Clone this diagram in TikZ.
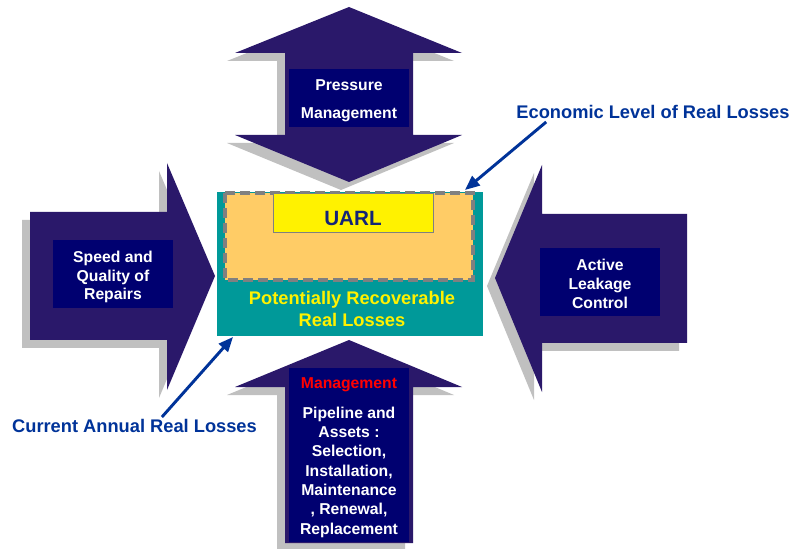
\documentclass[tikz,border=0pt]{standalone}
\usepackage{fontspec}
\setmainfont{Liberation Sans}
\usetikzlibrary{arrows.meta,calc}
\definecolor{arrowpurple}{RGB}{42,24,106}
\definecolor{innernavy}{RGB}{0,0,112}
\definecolor{shadowgray}{RGB}{192,192,192}
\definecolor{tealbox}{RGB}{0,153,153}
\definecolor{orangefill}{RGB}{255,204,102}
\definecolor{dashgray}{RGB}{128,128,128}
\definecolor{labelblue}{RGB}{0,51,153}
\definecolor{uarlblue}{RGB}{20,36,120}
\begin{document}
\begin{tikzpicture}[x=0.75pt,y=-0.75pt,
  innerbox/.style={fill=innernavy, inner sep=0pt},
  lbl/.style={inner sep=0pt, text=labelblue, font=\bfseries\fontsize{13.7}{16}\selectfont},
  pointer/.style={draw=labelblue, line width=2.2pt, -{Triangle[length=11pt,width=9pt]}},
  wtext/.style={inner sep=0pt, text=white, align=center, font=\bfseries\fontsize{11.8}{14}\selectfont}]
\useasboundingbox (0,0) rectangle (797,549);
\fill[white] (0,0) rectangle (797,549);

% four block arrows, shadows first
\foreach \c/\dx/\dy in {shadowgray/-8/8, arrowpurple/0/0}{
  \begin{scope}[shift={(\dx,\dy)}]
  % top double arrow
  \fill[\c] (349,7) -- (462,53) -- (413,53) -- (413,135) -- (462,135) -- (349,182)
     -- (235,135) -- (285,135) -- (285,53) -- (235,53) -- cycle;
  % left arrow
  \fill[\c] (30,212) -- (167,212) -- (167,163) -- (215,276) -- (167,390) -- (167,340)
     -- (30,340) -- cycle;
  % right arrow
  \fill[\c] (687,214) -- (542,214) -- (542,165) -- (495,278) -- (542,392) -- (542,343)
     -- (687,343) -- cycle;
  % bottom arrow
  \fill[\c] (349,340) -- (462,387) -- (413,387) -- (413,543) -- (285,543) -- (285,387)
     -- (235,387) -- cycle;
  \end{scope}
}

% inner boxes
\node[innerbox, minimum width=90pt, minimum height=43.5pt] (pressurebox) at (349,98) {};
\node[innerbox, minimum width=90pt, minimum height=51pt] (speedbox) at (113,274) {};
\node[innerbox, minimum width=90pt, minimum height=51pt] (activebox) at (600,282) {};
\node[innerbox, minimum width=90pt, minimum height=130.5pt] (pipebox) at (349,455) {};

\node[wtext, font=\bfseries\fontsize{11.8}{21}\selectfont] (pressure) at (349,101) {Pressure\\Management};
\node[wtext, font=\bfseries\fontsize{11.8}{13.7}\selectfont] (speed) at (113,277) {Speed and\\Quality of\\Repairs};
\node[wtext, font=\bfseries\fontsize{11.8}{14.3}\selectfont] (active) at (600,284) {Active\\Leakage\\Control};
\node[inner sep=0pt, text=red, font=\bfseries\fontsize{11.8}{14}\selectfont] (mgmt) at (349,385) {Management};
\node[wtext, font=\bfseries\fontsize{11.8}{14.5}\selectfont] (pipeline) at (349,472)
  {Pipeline and\\Assets :\\Selection,\\Installation,\\Maintenance\\, Renewal,\\Replacement};

% centre box
\fill[tealbox] (217,192) rectangle (483,336);
\draw[fill=orangefill, draw=dashgray, line width=2.4pt, dash pattern=on 7.5pt off 3.75pt]
  (225,193) rectangle (473,280);
\draw[fill=yellow, draw=dashgray, line width=0.6pt] (273,193) rectangle (433,232);
\node[inner sep=0pt, text=uarlblue, font=\bfseries\fontsize{15.5}{18}\selectfont] (uarl) at (353,218) {UARL};
\node[inner sep=0pt, text=yellow, align=center, font=\bfseries\fontsize{13.7}{16.5}\selectfont]
  (prl) at (352,309) {Potentially Recoverable\\Real Losses};

% callouts
\node[lbl] (econ) at (653,112) {Economic Level of Real Losses};
\coordinate (econtip) at (465,190);
\draw[pointer] ($(econ.south west)+(30,3)$) -- (econtip);

\node[lbl] (cur) at (134.5,426) {Current Annual Real Losses};
\coordinate (curtip) at (233,337);
\draw[pointer] ($(cur.north west)+(150,-2)$) -- (curtip);
\end{tikzpicture}
\end{document}
